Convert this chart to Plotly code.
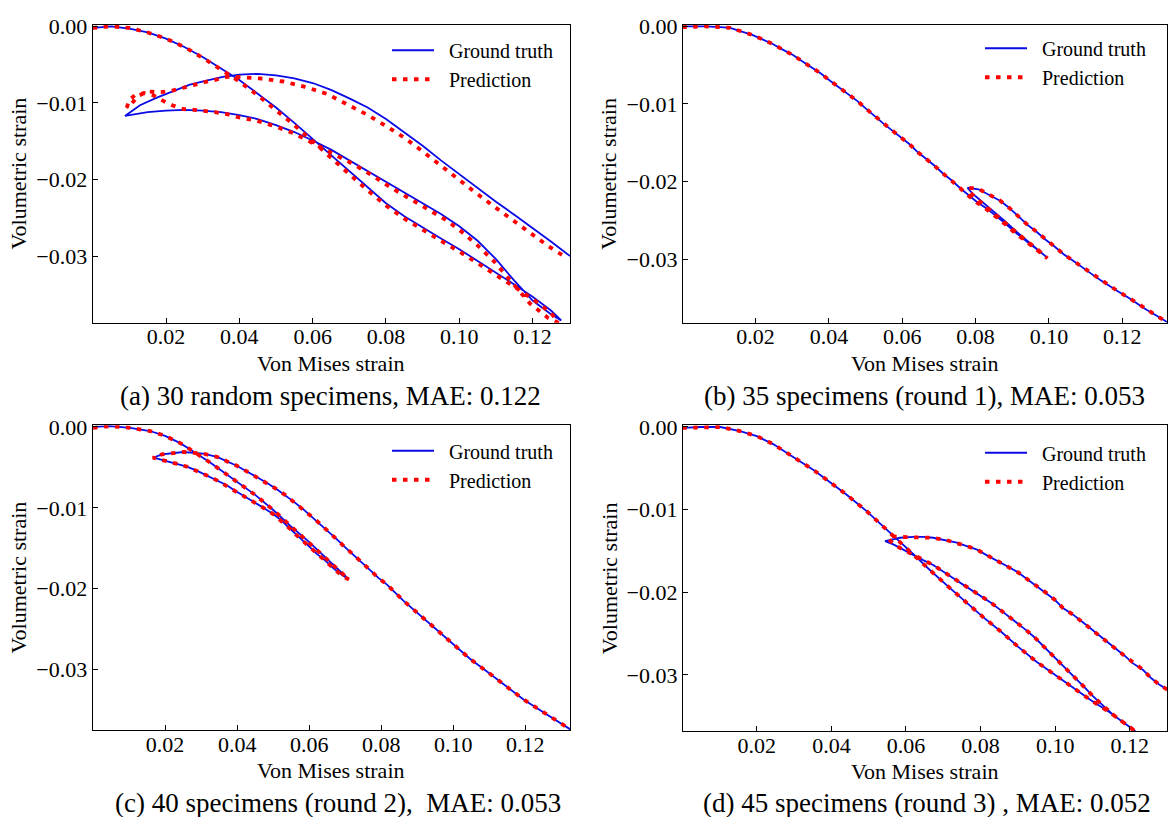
import plotly.graph_objects as go

W, H = 1170, 817
FONT = "Liberation Serif, Times New Roman, serif"
BLUE = "#0a0ae6"
RED = "#ff0000"

# ---------------- data ----------------
X_TICK_VALS = [0.02, 0.04, 0.06, 0.08, 0.10, 0.12]
X_TICK_TEXT = ["0.02", "0.04", "0.06", "0.08", "0.10", "0.12"]
Y_TICK_VALS = [0.0, -0.01, -0.02, -0.03]
Y_TICK_TEXT = ["0.00", "\u22120.01", "\u22120.02", "\u22120.03"]

SERIES_NAMES = ["\u2002Ground truth", "\u2002Prediction"]
X_TITLE = "Von Mises strain"
Y_TITLE = "Volumetric strain"
CAPTIONS = [
    "(a) 30 random specimens, MAE: 0.122",
    "(b) 35 specimens (round 1), MAE: 0.053",
    "(c) 40 specimens (round 2),\u00a0 MAE: 0.053",
    "(d) 45 specimens (round 3) , MAE: 0.052",
]

# (a) 30 random specimens
A_GT_X = [0.0003, 0.005, 0.010, 0.015, 0.020, 0.025, 0.030, 0.035, 0.040, 0.045, 0.050, 0.055, 0.060, 0.065,
          0.070, 0.075, 0.080, 0.085, 0.090, 0.095, 0.100, 0.105, 0.110, 0.115, 0.120, 0.125, 0.1278,
          0.125, 0.120, 0.115, 0.110, 0.105, 0.100, 0.095, 0.090, 0.085, 0.080, 0.075, 0.070, 0.065, 0.060,
          0.055, 0.050, 0.045, 0.040, 0.035, 0.030, 0.025, 0.020, 0.015, 0.0088,
          0.0129, 0.0175, 0.022, 0.0265, 0.031, 0.0355, 0.040, 0.045, 0.050, 0.055, 0.060, 0.065, 0.070,
          0.075, 0.080, 0.085, 0.090, 0.095, 0.100, 0.105, 0.110, 0.115, 0.120, 0.125, 0.1302]
A_GT_Y = [-0.0002, 0.0000, -0.0003, -0.0008, -0.0016, -0.0027, -0.0040, -0.0055, -0.0070, -0.0088, -0.0106,
          -0.0126, -0.0147, -0.0169, -0.0190, -0.0211, -0.0231, -0.0248, -0.0263, -0.0277, -0.0291, -0.0306,
          -0.0322, -0.0337, -0.0353, -0.0371, -0.0384,
          -0.0376, -0.0358, -0.0332, -0.0304, -0.0280, -0.0261, -0.0245, -0.0231, -0.0217, -0.0203, -0.0188,
          -0.0174, -0.0161, -0.0149, -0.0138, -0.0129, -0.0121, -0.0116, -0.0112, -0.0110, -0.0109, -0.0110,
          -0.0112, -0.0117,
          -0.0103, -0.0093, -0.0084, -0.0076, -0.0071, -0.0066, -0.0063, -0.0062, -0.0064, -0.0068, -0.0074,
          -0.0083, -0.0094, -0.0106, -0.0121, -0.0138, -0.0156, -0.0175, -0.0193, -0.0212, -0.0229, -0.0246,
          -0.0263, -0.0281, -0.0300]
A_PR_X = [0.0, 0.005, 0.010, 0.015, 0.020, 0.025, 0.030, 0.035, 0.040, 0.045, 0.050, 0.055, 0.060, 0.065,
          0.070, 0.075, 0.080, 0.085, 0.090, 0.095, 0.100, 0.105, 0.110, 0.115, 0.120, 0.125, 0.127,
          0.1243, 0.1193, 0.1147, 0.1097, 0.1052, 0.1006, 0.0961, 0.0913, 0.0865, 0.0815, 0.0764, 0.0711,
          0.065, 0.060, 0.055, 0.050, 0.0447, 0.040, 0.0369, 0.0334, 0.0306, 0.0276, 0.0247, 0.0217, 0.0191,
          0.0165, 0.0140, 0.0115, 0.0100, 0.0093,
          0.0106, 0.0124, 0.0150, 0.0186, 0.0217, 0.0247, 0.0276, 0.0304, 0.0334, 0.0366, 0.0393, 0.0456,
          0.052, 0.0579, 0.0638, 0.0693, 0.0747, 0.080, 0.0852, 0.0902, 0.0947, 0.0997, 0.1047, 0.1097,
          0.1145, 0.1193, 0.1243, 0.1295]
A_PR_Y = [-0.0002, 0.0000, -0.0002, -0.0008, -0.0016, -0.0027, -0.0041, -0.0056, -0.0072, -0.0090, -0.0109,
          -0.0129, -0.0150, -0.0172, -0.0193, -0.0214, -0.0234, -0.0251, -0.0266, -0.0280, -0.0294, -0.0309,
          -0.0325, -0.0340, -0.0356, -0.0374, -0.0387,
          -0.0381, -0.0362, -0.0337, -0.0308, -0.0287, -0.0268, -0.0252, -0.0238, -0.0225, -0.0211, -0.0195,
          -0.0180, -0.0165, -0.0153, -0.0140, -0.0131, -0.0123, -0.0119, -0.0115, -0.0112, -0.0110, -0.0109,
          -0.0108, -0.0103, -0.0097, -0.0090, -0.0087, -0.0090, -0.0096, -0.0106,
          -0.0101, -0.0091, -0.0085, -0.0086, -0.0084, -0.0080, -0.0076, -0.0073, -0.0070, -0.0066, -0.0066,
          -0.0068, -0.0072, -0.0079, -0.0088, -0.0101, -0.0115, -0.0130, -0.0146, -0.0164, -0.0181, -0.0199,
          -0.0218, -0.0236, -0.0253, -0.0270, -0.0287, -0.0303]

# (b) 35 specimens (round 1)
B_GT_X = [0.0005, 0.0064, 0.0104, 0.0131, 0.0158, 0.0191, 0.0220, 0.0248, 0.0274, 0.0302, 0.0327, 0.0354,
          0.0379, 0.0403, 0.0428, 0.0453, 0.0477, 0.0501, 0.0525, 0.0548, 0.0572, 0.0596, 0.0620, 0.0642,
          0.0666, 0.0689, 0.0712, 0.0736, 0.0759, 0.0780, 0.0803, 0.0828, 0.0853, 0.0878, 0.0902, 0.0925,
          0.0949, 0.0972, 0.0995,
          0.0970, 0.0940, 0.0910, 0.0880, 0.0850, 0.0820, 0.0800, 0.0785, 0.0778,
          0.0808, 0.0838, 0.0868, 0.0892, 0.0917, 0.0942, 0.0967, 0.0991, 0.1016, 0.1041, 0.1066, 0.1091,
          0.1116, 0.1140, 0.1165, 0.1190, 0.1215, 0.1240, 0.1265, 0.1294, 0.1322]
B_GT_Y = [0.0000, 0.0000, -0.0001, -0.0002, -0.0006, -0.0011, -0.0017, -0.0023, -0.0030, -0.0037, -0.0045,
          -0.0053, -0.0061, -0.0070, -0.0079, -0.0087, -0.0096, -0.0106, -0.0116, -0.0125, -0.0134, -0.0143,
          -0.0152, -0.0162, -0.0171, -0.0180, -0.0190, -0.0199, -0.0209, -0.0217, -0.0226, -0.0234, -0.0243,
          -0.0253, -0.0263, -0.0272, -0.0281, -0.0289, -0.0298,
          -0.0287, -0.0276, -0.0264, -0.0251, -0.0239, -0.0228, -0.0219, -0.0212, -0.0208,
          -0.0210, -0.0217, -0.0225, -0.0234, -0.0245, -0.0256, -0.0265, -0.0275, -0.0284, -0.0294, -0.0302,
          -0.0311, -0.0319, -0.0327, -0.0335, -0.0342, -0.0349, -0.0357, -0.0365, -0.0373, -0.0381]
B_PR_X = [0.0, 0.0064, 0.0104, 0.0131, 0.0158, 0.0191, 0.0220, 0.0248, 0.0274, 0.0302, 0.0327, 0.0354,
          0.0379, 0.0403, 0.0428, 0.0453, 0.0477, 0.0501, 0.0525, 0.0548, 0.0572, 0.0596, 0.0620, 0.0642,
          0.0666, 0.0689, 0.0712, 0.0736, 0.0759, 0.0780, 0.0803, 0.0828, 0.0853, 0.0878, 0.0902, 0.0925,
          0.0949, 0.0972, 0.0996,
          0.0970, 0.0940, 0.0910, 0.0880, 0.0850, 0.0820, 0.0800, 0.0785, 0.0780,
          0.0782, 0.0810, 0.0838, 0.0868, 0.0892, 0.0917, 0.0942, 0.0967, 0.0991, 0.1016, 0.1041, 0.1066,
          0.1091, 0.1116, 0.1140, 0.1165, 0.1190, 0.1215, 0.1240, 0.1265, 0.1294, 0.1322]
B_PR_Y = [-0.0001, 0.0000, -0.0001, -0.0002, -0.0006, -0.0011, -0.0017, -0.0023, -0.0030, -0.0037, -0.0045,
          -0.0053, -0.0061, -0.0070, -0.0079, -0.0087, -0.0096, -0.0106, -0.0116, -0.0125, -0.0134, -0.0143,
          -0.0152, -0.0162, -0.0171, -0.0180, -0.0190, -0.0199, -0.0209, -0.0218, -0.0227, -0.0235, -0.0244,
          -0.0254, -0.0264, -0.0273, -0.0282, -0.0290, -0.0299,
          -0.0288, -0.0277, -0.0265, -0.0253, -0.0241, -0.0230, -0.0221, -0.0214, -0.0210,
          -0.0208, -0.0210, -0.0217, -0.0225, -0.0234, -0.0245, -0.0256, -0.0265, -0.0275, -0.0284, -0.0294,
          -0.0302, -0.0311, -0.0319, -0.0327, -0.0335, -0.0342, -0.0349, -0.0357, -0.0365, -0.0373, -0.0381]

# (c) 40 specimens (round 2)
C_GT_X = [0.0001, 0.0047, 0.0103, 0.0158, 0.0200, 0.0242, 0.0274, 0.0302, 0.0325, 0.0353, 0.0399, 0.0450,
          0.0501, 0.0547, 0.0594, 0.0640, 0.0686, 0.0709,
          0.0691, 0.0668, 0.0644, 0.0621, 0.0598, 0.0570, 0.0547, 0.0524, 0.0501, 0.0473, 0.0450, 0.0422,
          0.0399, 0.0371, 0.0344, 0.0316, 0.0288, 0.0260, 0.0228, 0.0195, 0.0168,
          0.0191, 0.0223, 0.0251, 0.0279, 0.0306, 0.0344, 0.0371, 0.0399, 0.0427, 0.0455, 0.0482, 0.0510,
          0.0533, 0.0556, 0.0584, 0.0607, 0.0631, 0.0654, 0.0677, 0.0700, 0.0723, 0.0746, 0.0769, 0.0793,
          0.0816, 0.0862, 0.0908, 0.0955, 0.1001, 0.1047, 0.1098, 0.1149, 0.1195, 0.1251, 0.1306, 0.1325]
C_GT_Y = [0.0000, 0.0001, -0.0001, -0.0005, -0.0011, -0.0020, -0.0029, -0.0037, -0.0044, -0.0053, -0.0068,
          -0.0084, -0.0103, -0.0122, -0.0140, -0.0159, -0.0179, -0.0188,
          -0.0183, -0.0175, -0.0165, -0.0157, -0.0147, -0.0136, -0.0126, -0.0116, -0.0108, -0.0100, -0.0094,
          -0.0086, -0.0080, -0.0072, -0.0066, -0.0060, -0.0054, -0.0049, -0.0045, -0.0041, -0.0038,
          -0.0034, -0.0032, -0.0031, -0.0032, -0.0033, -0.0037, -0.0042, -0.0048, -0.0055, -0.0062, -0.0069,
          -0.0077, -0.0084, -0.0092, -0.0102, -0.0111, -0.0120, -0.0130, -0.0139, -0.0149, -0.0158, -0.0167,
          -0.0177, -0.0187, -0.0195, -0.0215, -0.0233, -0.0251, -0.0269, -0.0287, -0.0304, -0.0321, -0.0337,
          -0.0353, -0.0368, -0.0374]
C_PR_X = [0.0, 0.0047, 0.0103, 0.0158, 0.0200, 0.0242, 0.0274, 0.0302, 0.0325, 0.0353, 0.0399, 0.0450,
          0.0501, 0.0547, 0.0594, 0.0640, 0.0686, 0.0711,
          0.0691, 0.0668, 0.0644, 0.0621, 0.0598, 0.0570, 0.0547, 0.0524, 0.0501, 0.0473, 0.0450, 0.0422,
          0.0399, 0.0371, 0.0344, 0.0316, 0.0288, 0.0260, 0.0228, 0.0195, 0.0166,
          0.0191, 0.0223, 0.0251, 0.0279, 0.0306, 0.0344, 0.0371, 0.0399, 0.0427, 0.0455, 0.0482, 0.0510,
          0.0533, 0.0556, 0.0584, 0.0607, 0.0631, 0.0654, 0.0677, 0.0700, 0.0723, 0.0746, 0.0769, 0.0793,
          0.0816, 0.0862, 0.0908, 0.0955, 0.1001, 0.1047, 0.1098, 0.1149, 0.1195, 0.1251, 0.1306, 0.1325]
C_PR_Y = [-0.0001, 0.0001, -0.0001, -0.0005, -0.0011, -0.0020, -0.0029, -0.0037, -0.0044, -0.0053, -0.0068,
          -0.0084, -0.0103, -0.0122, -0.0140, -0.0159, -0.0179, -0.0189,
          -0.0184, -0.0175, -0.0166, -0.0157, -0.0148, -0.0136, -0.0126, -0.0117, -0.0108, -0.0100, -0.0094,
          -0.0086, -0.0080, -0.0072, -0.0066, -0.0060, -0.0054, -0.0049, -0.0045, -0.0041, -0.0038,
          -0.0034, -0.0032, -0.0031, -0.0032, -0.0033, -0.0037, -0.0042, -0.0048, -0.0055, -0.0062, -0.0069,
          -0.0077, -0.0084, -0.0092, -0.0102, -0.0111, -0.0120, -0.0130, -0.0139, -0.0149, -0.0158, -0.0167,
          -0.0177, -0.0187, -0.0195, -0.0215, -0.0233, -0.0251, -0.0269, -0.0287, -0.0304, -0.0321, -0.0337,
          -0.0353, -0.0368, -0.0374]

# (d) 45 specimens (round 3)
D_GT_X = [0.0002, 0.0048, 0.0102, 0.0155, 0.0200, 0.0245, 0.0289, 0.0352, 0.0400, 0.0441, 0.0495, 0.0530,
          0.0557, 0.0584, 0.0620, 0.0664, 0.0718, 0.0763, 0.0807, 0.0856, 0.0901, 0.0950, 0.0999, 0.1048,
          0.1097, 0.1146, 0.1187, 0.1209, 0.1240,
          0.1200, 0.1155, 0.1133, 0.1102, 0.1079, 0.1057, 0.1035, 0.1013, 0.0990, 0.0968, 0.0946, 0.0923,
          0.0901, 0.0879, 0.0852, 0.0829, 0.0803, 0.0780, 0.0754, 0.0727, 0.0700, 0.0673, 0.0646, 0.0620,
          0.0593, 0.0566, 0.0544,
          0.0566, 0.0584, 0.0620, 0.0646, 0.0673, 0.0709, 0.0736, 0.0763, 0.0789, 0.0816, 0.0847, 0.0874,
          0.0901, 0.0928, 0.0954, 0.0977, 0.0999, 0.1021, 0.1048, 0.1071, 0.1093, 0.1120, 0.1142, 0.1164,
          0.1187, 0.1209, 0.1236, 0.1258, 0.1280, 0.1302]
D_GT_Y = [-0.0001, 0.0000, 0.0000, -0.0005, -0.0011, -0.0021, -0.0034, -0.0052, -0.0068, -0.0082, -0.0102,
          -0.0117, -0.0128, -0.0139, -0.0154, -0.0173, -0.0195, -0.0213, -0.0230, -0.0248, -0.0266, -0.0284,
          -0.0300, -0.0316, -0.0331, -0.0345, -0.0358, -0.0366, -0.0378,
          -0.0363, -0.0348, -0.0339, -0.0326, -0.0315, -0.0305, -0.0295, -0.0285, -0.0275, -0.0265, -0.0255,
          -0.0246, -0.0238, -0.0230, -0.0221, -0.0213, -0.0205, -0.0198, -0.0191, -0.0183, -0.0175, -0.0167,
          -0.0161, -0.0155, -0.0148, -0.0142, -0.0138,
          -0.0136, -0.0134, -0.0133, -0.0133, -0.0134, -0.0137, -0.0140, -0.0144, -0.0148, -0.0155, -0.0162,
          -0.0169, -0.0176, -0.0185, -0.0193, -0.0201, -0.0209, -0.0219, -0.0227, -0.0235, -0.0243, -0.0252,
          -0.0261, -0.0269, -0.0277, -0.0286, -0.0294, -0.0304, -0.0312, -0.0318]
D_PR_X = [0.0, 0.0048, 0.0102, 0.0155, 0.0200, 0.0245, 0.0289, 0.0352, 0.0400, 0.0441, 0.0495, 0.0530,
          0.0557, 0.0584, 0.0620, 0.0664, 0.0718, 0.0763, 0.0807, 0.0856, 0.0901, 0.0950, 0.0999, 0.1048,
          0.1097, 0.1146, 0.1187, 0.1209, 0.1240,
          0.1200, 0.1155, 0.1133, 0.1102, 0.1079, 0.1057, 0.1035, 0.1013, 0.0990, 0.0968, 0.0946, 0.0923,
          0.0901, 0.0879, 0.0852, 0.0829, 0.0803, 0.0780, 0.0754, 0.0727, 0.0700, 0.0673, 0.0646, 0.0620,
          0.0593, 0.0570, 0.0552,
          0.0560, 0.0584, 0.0620, 0.0646, 0.0673, 0.0709, 0.0736, 0.0763, 0.0789, 0.0816, 0.0847, 0.0874,
          0.0901, 0.0928, 0.0954, 0.0977, 0.0999, 0.1021, 0.1048, 0.1071, 0.1093, 0.1120, 0.1142, 0.1164,
          0.1187, 0.1209, 0.1236, 0.1258, 0.1280, 0.1302]
D_PR_Y = [-0.0001, 0.0000, 0.0000, -0.0005, -0.0011, -0.0021, -0.0034, -0.0052, -0.0068, -0.0082, -0.0102,
          -0.0117, -0.0128, -0.0139, -0.0154, -0.0173, -0.0195, -0.0213, -0.0230, -0.0248, -0.0266, -0.0284,
          -0.0300, -0.0316, -0.0331, -0.0345, -0.0358, -0.0366, -0.0378,
          -0.0363, -0.0348, -0.0339, -0.0326, -0.0315, -0.0305, -0.0295, -0.0285, -0.0275, -0.0265, -0.0255,
          -0.0246, -0.0238, -0.0230, -0.0221, -0.0213, -0.0205, -0.0198, -0.0191, -0.0183, -0.0175, -0.0167,
          -0.0161, -0.0155, -0.0149, -0.0143, -0.0135,
          -0.0132, -0.0133, -0.0133, -0.0133, -0.0134, -0.0137, -0.0140, -0.0144, -0.0148, -0.0155, -0.0162,
          -0.0169, -0.0176, -0.0185, -0.0193, -0.0201, -0.0209, -0.0219, -0.0227, -0.0235, -0.0243, -0.0252,
          -0.0261, -0.0269, -0.0277, -0.0286, -0.0294, -0.0304, -0.0312, -0.0318]

# ---------------- layout (pixel boxes of the four panels) ----------------
PANELS = [
    dict(gx=A_GT_X, gy=A_GT_Y, px=A_PR_X, py=A_PR_Y, box=(92.7, 570, 14, 316),
         xr=[0.0, 0.1302], yr=[-0.0387, 0.0002], cap=(330, 390), leg=(387, 20)),
    dict(gx=B_GT_X, gy=B_GT_Y, px=B_PR_X, py=B_PR_Y, box=(683, 1167, 14, 316),
         xr=[0.0002, 0.1322], yr=[-0.0382, 0.0002], cap=(924, 390), leg=(980, 18)),
    dict(gx=C_GT_X, gy=C_GT_Y, px=C_PR_X, py=C_PR_Y, box=(92.7, 570, 420, 729),
         xr=[-0.0001, 0.1324], yr=[-0.0375, 0.0002], cap=(338, 803), leg=(387, 426)),
    dict(gx=D_GT_X, gy=D_GT_Y, px=D_PR_X, py=D_PR_Y, box=(683, 1167, 420, 730),
         xr=[0.0002, 0.1300], yr=[-0.0368, 0.0002], cap=(927, 803), leg=(980, 428)),
]


def fx(px):
    return px / W


def fy(py):
    return 1 - py / H


fig = go.Figure()
annotations = []
layout = {}
for i, p in enumerate(PANELS):
    n = i + 1
    sfx = "" if n == 1 else str(n)
    xa, ya = "x" + sfx, "y" + sfx
    leg = "legend" + sfx
    L, R, T, B = p["box"]
    fig.add_trace(go.Scatter(x=p["gx"], y=p["gy"], mode="lines", name=SERIES_NAMES[0],
                             line=dict(color=BLUE, width=1.8), xaxis=xa, yaxis=ya, legend=leg,
                             hoverinfo="skip"))
    fig.add_trace(go.Scatter(x=p["px"], y=p["py"], mode="lines", name=SERIES_NAMES[1],
                             line=dict(color=RED, width=3.8, dash="4.5px,6.5px"), xaxis=xa, yaxis=ya,
                             legend=leg, hoverinfo="skip"))
    axis_common = dict(showline=True, linecolor="black", linewidth=1.2, mirror=True, ticks="inside",
                       ticklen=5, tickwidth=1, tickcolor="black", showgrid=False, zeroline=False,
                       tickfont=dict(family=FONT, size=22, color="black"))
    layout["xaxis" + sfx] = dict(domain=[fx(L), fx(R)], range=p["xr"], anchor=ya,
                                 tickvals=X_TICK_VALS, ticktext=X_TICK_TEXT, ticklabelstandoff=-6,
                                 **axis_common)
    layout["yaxis" + sfx] = dict(domain=[fy(B), fy(T)], range=p["yr"], anchor=xa,
                                 tickvals=Y_TICK_VALS, ticktext=Y_TICK_TEXT, **axis_common)
    layout[leg] = dict(x=fx(p["leg"][0]), y=fy(p["leg"][1]), xanchor="left", yanchor="top",
                       xref="paper", yref="paper", bgcolor="rgba(0,0,0,0)", borderwidth=0,
                       font=dict(family=FONT, size=20, color="black"), itemwidth=42,
                       tracegroupgap=0)
    # axis titles and caption
    annotations.append(dict(x=fx((L + R) / 2), y=fy(B + 41), xref="paper", yref="paper",
                            text=X_TITLE, showarrow=False, xanchor="center", yanchor="middle",
                            font=dict(family=FONT, size=22, color="black")))
    annotations.append(dict(x=fx(L - 74), y=fy((T + B) / 2), xref="paper", yref="paper",
                            text=Y_TITLE, showarrow=False, textangle=-90, xanchor="center",
                            yanchor="middle", font=dict(family=FONT, size=22, color="black")))
    annotations.append(dict(x=fx(p["cap"][0]), y=fy(p["cap"][1]), xref="paper", yref="paper",
                            text=CAPTIONS[i], showarrow=False, xanchor="center", yanchor="middle",
                            font=dict(family=FONT, size=27, color="black")))

fig.update_layout(width=W, height=H, margin=dict(l=0, r=0, t=0, b=0), paper_bgcolor="white",
                  plot_bgcolor="white", annotations=annotations, font=dict(family=FONT, color="black"),
                  **layout)

fig.write_html("out.html", config={"displayModeBar": False},
               post_script="document.body.style.margin='0px';")
